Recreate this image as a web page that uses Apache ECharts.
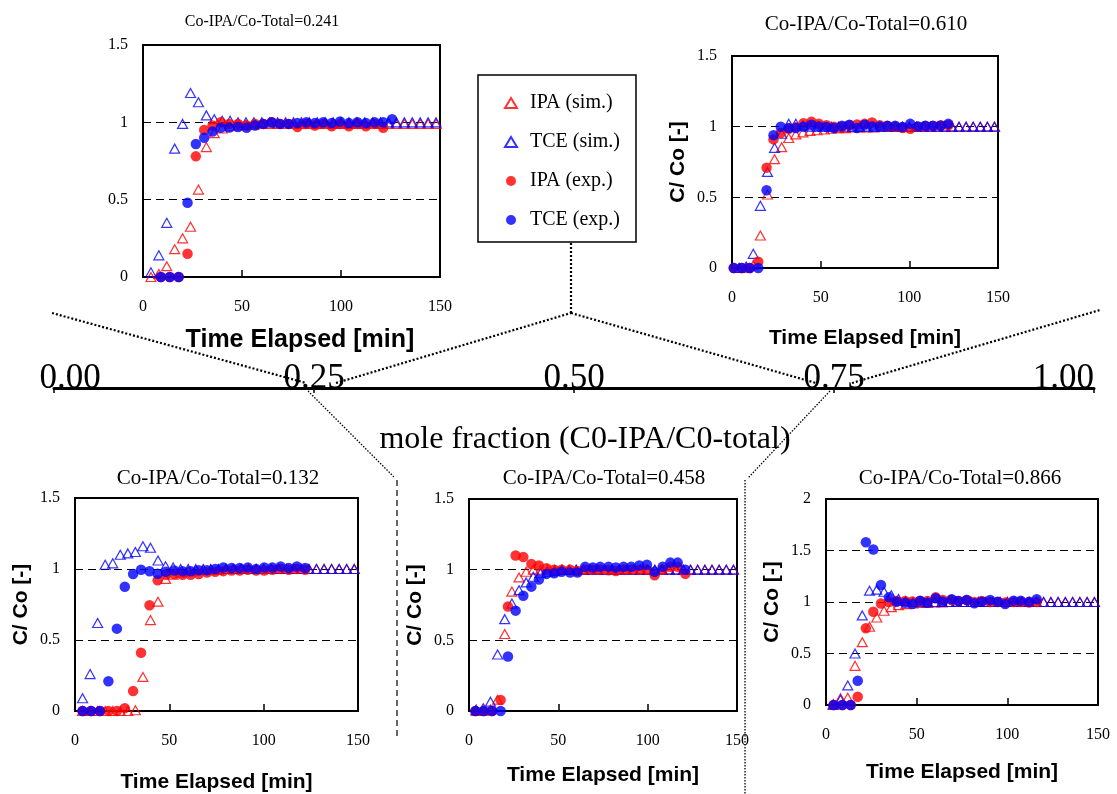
<!DOCTYPE html>
<html><head><meta charset="utf-8">
<script src="https://cdn.jsdelivr.net/npm/echarts@6/dist/echarts.min.js"></script>
<style>html,body{margin:0;padding:0;background:#fff}#c{width:1117px;height:794px}</style>
</head><body><div id="c"></div>
<script>
// ---------- DATA ----------
const simT = [4,8,12,16,20,24,28,32,36,40,44,48,52,56,60,64,68,72,76,80,84,88,92,96,100,104,108,112,116,120,124,128,132,136,140,144,148];

// Panel 0.241
const A_title = "Co-IPA/Co-Total=0.241";
const A_ipaSim = [0,0.02,0.07,0.18,0.25,0.325,0.565,0.84,0.93,0.96,0.975,0.98,0.985,0.985,0.99,0.99,0.99,0.99,0.99,0.99,0.99,0.99,0.99,0.99,0.99,0.99,0.99,0.99,0.99,0.99,0.99,0.99,0.99,0.99,0.99,0.99,0.99];
const A_tceSim = [0.03,0.14,0.35,0.83,0.99,1.19,1.13,1.045,1.02,1.01,1.01,1.0,1.0,1.0,1.0,1.0,1.0,1.0,1.0,1.0,1.0,1.0,1.0,1.0,1.0,1.0,1.0,1.0,1.0,1.0,1.0,1.0,1.0,1.0,1.0,1.0,1.0];
const A_expT = [9,13.5,18,22.5,26.7,30.9,35.1,39.3,43.6,48,52.3,56.6,60.8,65,69.2,73.6,78,82.5,86.8,91,95.3,99.5,104,108.3,112.6,117,121.3,125.8];
const A_ipaExp = [0,0,0,0.15,0.78,0.95,0.98,1.0,0.99,0.99,0.98,0.99,0.99,1.0,0.99,0.99,0.97,0.99,0.98,0.99,0.975,0.99,0.975,0.99,0.975,0.99,0.965];
const A_tceExp = [0,0,0,0.48,0.86,0.90,0.94,0.965,0.966,0.97,0.965,0.98,0.99,1.0,0.99,0.99,0.995,1.0,0.995,1.0,0.995,1.005,0.995,1.0,0.995,1.0,1.0,1.02];

// Panel 0.610
const B_title = "Co-IPA/Co-Total=0.610";
const B_ipaSim = [0,0,0.02,0.23,0.52,0.77,0.855,0.92,0.945,0.96,0.97,0.975,0.98,0.985,0.99,0.99,0.995,0.995,0.995,0.995,1.0,1.0,1.0,1.0,1.0,1.0,1.0,1.0,1.0,1.0,1.0,1.0,1.0,1.0,1.0,1.0,1.0];
const B_tceSim = [0,0.01,0.10,0.44,0.68,0.85,0.95,1.02,1.02,1.01,1.0,1.0,1.0,1.0,1.0,1.0,1.0,1.0,1.0,1.0,1.0,1.0,1.0,1.0,1.0,1.0,1.0,1.0,1.0,1.0,1.0,1.0,1.0,1.0,1.0,1.0,1.0];
const B_expT = [1,5.5,10,14.8,19.5,23.4,27.5,32,36,40.3,44.8,49,53.3,57.5,62,66.2,70.5,74.8,79,83.3,87.6,92,96.2,100.5,104.8,109,113.3,117.7,122];
const B_ipaExp = [0,0,0,0.045,0.71,0.91,0.955,0.985,0.995,1.025,1.035,1.02,1.01,1.0,1.0,1.01,1.015,1.02,1.03,1.01,1.005,1.0,0.99,0.985,1.0,1.005,1.005,1.01,1.01];
const B_tceExp = [0,0,0,0,0.55,0.94,1.0,0.99,0.99,1.0,1.014,1.002,0.998,0.99,1.007,1.014,0.99,1.014,1.002,1.002,1.007,1.007,0.998,1.02,1.002,1.007,1.007,1.007,1.02];

// Panel 0.132
const C_title = "Co-IPA/Co-Total=0.132";
const C_ipaSim = [0,0,0,0,0,0,0,0.005,0.24,0.64,0.77,0.93,0.96,0.975,0.985,0.99,0.995,0.995,0.995,1.0,1.0,1.0,1.0,1.0,1.0,1.0,1.0,1.0,1.0,1.0,1.0,1.0,1.0,1.0,1.0,1.0,1.0];
const C_tceSim = [0.09,0.26,0.62,1.03,1.04,1.10,1.11,1.12,1.16,1.15,1.06,1.02,1.01,1.0,1.0,1.0,1.0,1.0,1.0,1.0,1.0,1.0,1.0,1.0,1.0,1.0,1.0,1.0,1.0,1.0,1.0,1.0,1.0,1.0,1.0,1.0,1.0];
const C_expT = [4,8.5,13.2,17.7,22.2,26.4,30.8,35,39.5,43.8,48.2,52.6,57,61.3,65.6,70,74.3,78.6,83,87.3,91.6,96,100.3,104.6,109,113.3,117.6,122];
const C_ipaExp = [0,0,0,0,0,0.02,0.14,0.41,0.745,0.92,0.96,0.965,0.96,0.96,0.965,0.975,0.98,0.985,0.99,0.99,0.995,0.99,0.99,0.995,1.0,0.995,1.0,0.995];
const C_tceExp = [0,0,0,0.21,0.58,0.875,0.965,0.995,0.984,0.967,0.98,0.99,0.984,0.984,0.991,0.991,1.0,1.011,1.007,1.007,1.011,1.0,1.011,1.011,1.018,1.007,1.018,1.007];

// Panel 0.458
const D_title = "Co-IPA/Co-Total=0.458";
const D_ipaSim = [0,0,0.01,0.08,0.545,0.845,0.945,0.985,1.0,1.0,1.0,1.0,1.0,1.0,1.0,1.0,1.0,1.0,1.0,1.0,1.0,1.0,1.0,1.0,1.0,1.0,1.0,1.0,1.0,1.0,1.0,1.0,1.0,1.0,1.0,1.0,1.0];
const D_tceSim = [0.01,0.02,0.066,0.40,0.65,0.76,0.855,0.91,0.95,0.975,0.985,0.99,1.0,1.0,1.0,1.0,1.0,1.0,1.0,1.0,1.0,1.0,1.0,1.0,1.0,1.0,1.0,1.0,1.0,1.0,1.0,1.0,1.0,1.0,1.0,1.0,1.0];
const D_expT = [3.6,8.2,12.9,17.7,21.8,26.1,30.4,34.9,39.1,43.4,47.7,51.9,56.6,60.7,65,69.3,73.4,78.1,82.2,86.5,90.8,95.3,99.6,103.9,108.4,112.7,116.8,121.1];
const D_ipaExp = [0,0,0,0.078,0.74,1.10,1.09,1.04,1.03,1.01,1.0,1.0,1.0,0.99,1.0,1.0,1.0,0.995,0.99,1.0,1.0,1.0,1.0,0.96,1.0,1.02,1.02,0.97];
const D_tceExp = [0,0,0,0,0.385,0.71,0.815,0.88,0.93,0.97,0.975,0.985,0.98,0.98,1.02,1.015,1.02,1.02,1.015,1.02,1.02,1.03,1.035,0.985,1.02,1.05,1.05,1.0];

// Panel 0.866
const E_title = "Co-IPA/Co-Total=0.866";
const E_ipaSim = [0.01,0.065,0.07,0.38,0.61,0.76,0.85,0.915,0.95,0.97,0.98,0.985,0.99,0.99,0.995,0.995,1.0,1.0,1.0,1.0,1.0,1.0,1.0,1.0,1.0,1.0,1.0,1.0,1.0,1.0,1.0,1.0,1.0,1.0,1.0,1.0,1.0];
const E_tceSim = [0,0.05,0.19,0.50,0.87,1.11,1.12,1.10,1.065,1.03,1.01,1.0,1.0,1.0,1.0,1.0,1.0,1.0,1.0,1.0,1.0,1.0,1.0,1.0,1.0,1.0,1.0,1.0,1.0,1.0,1.0,1.0,1.0,1.0,1.0,1.0,1.0];
const E_expT = [4.2,9,13.6,17.5,22,26.1,30.3,34.7,39,43.6,47.6,51.9,55.9,60.5,64.4,69.3,73,77.6,81.8,85.9,90.5,94.7,98.8,103.4,107.4,112,116.2];
const E_ipaExp = [0,0,0,0.08,0.745,0.905,0.985,1.0,1.01,1.01,1.005,1.01,1.01,1.045,1.02,1.02,1.01,1.02,1.0,1.01,1.0,1.0,0.995,1.0,1.0,0.995,1.0];
const E_tceExp = [0,0,0,0.235,1.58,1.51,1.165,1.045,1.003,0.993,0.98,1.013,0.993,1.036,1.003,1.026,1.01,1.02,0.987,1.003,1.02,1.003,0.98,1.013,1.013,1.003,1.026];

const xTicks = [0,50,100,150];
const fracTicks = [0,0.25,0.5,0.75,1];
const seriesNames = ["IPA (sim.)","TCE (sim.)","IPA (exp.)","TCE (exp.)"];
const xName = "Time Elapsed [min]";
const yName = "C/ Co [-]";
const fracName = "mole fraction (C0-IPA/C0-total)";

// ---------- LAYOUT ----------
const panels = [
  {t:A_title, ipaS:A_ipaSim, tceS:A_tceSim, eT:A_expT, ipaE:A_ipaExp, tceE:A_tceExp, g:{left:143,top:45,width:297,height:232}, ymax:1.5, yname:false, nameGap:51, xnFs:25, xnPad:[0,0,0,17], title:[257,9], tFs:16},
  {t:B_title, ipaS:B_ipaSim, tceS:B_tceSim, eT:B_expT, ipaE:B_ipaExp, tceE:B_tceExp, g:{left:732,top:56,width:266,height:212}, ymax:1.5, yname:true, nameGap:60, xnFs:21, xnPad:0, title:[861,9], tFs:21},
  {t:C_title, ipaS:C_ipaSim, tceS:C_tceSim, eT:C_expT, ipaE:C_ipaExp, tceE:C_tceExp, g:{left:75,top:498,width:283,height:219}, ymax:1.5, yname:true, nameGap:61, xnFs:21, xnPad:0, title:[213,463], tFs:21},
  {t:D_title, ipaS:D_ipaSim, tceS:D_tceSim, eT:D_expT, ipaE:D_ipaExp, tceE:D_tceExp, g:{left:469,top:499,width:268,height:212}, ymax:1.5, yname:true, nameGap:54, xnFs:21, xnPad:0, title:[599,463], tFs:21},
  {t:E_title, ipaS:E_ipaSim, tceS:E_tceSim, eT:E_expT, ipaE:E_ipaExp, tceE:E_tceExp, g:{left:826,top:499,width:272,height:206}, ymax:2, yname:true, nameGap:57, xnFs:21, xnPad:0, title:[955,463], tFs:21}
];
const serif = "'Liberation Serif','Times New Roman',serif";
const sans = "'Liberation Sans',Arial,sans-serif";
const RED = '#ff0000', BLUE = '#0000ff';

const grids = [], xAxes = [], yAxes = [], series = [], titles = [];
panels.forEach((p, i) => {
  grids.push(Object.assign({show:true, borderColor:'#000', borderWidth:2, backgroundColor:'#fff'}, p.g));
  xAxes.push({gridIndex:i, type:'value', min:xTicks[0], max:xTicks[xTicks.length-1], interval:50,
    axisLine:{show:false}, axisTick:{show:true, inside:true, length:7, lineStyle:{color:'#000', width:1.5}},
    splitLine:{show:false},
    axisLabel:{color:'#000', fontFamily:serif, fontSize:16, margin:22},
    name:xName, nameLocation:'middle', nameGap:p.nameGap,
    nameTextStyle:{color:'#000', fontFamily:sans, fontWeight:'bold', fontSize:p.xnFs, padding:p.xnPad}});
  yAxes.push({gridIndex:i, type:'value', min:0, max:p.ymax, interval:0.5,
    axisLine:{show:false}, axisTick:{show:false},
    splitLine:{show:true, lineStyle:{color:'#000', type:[8,5], width:1}},
    axisLabel:{color:'#000', fontFamily:serif, fontSize:16, margin:15, formatter:v=>String(v)},
    name:p.yname?yName:'', nameLocation:'middle', nameGap:43, nameRotate:90,
    nameTextStyle:{color:'#000', fontFamily:sans, fontWeight:'bold', fontSize:21}});
  const pair = (xs, ys) => ys.map((v, k) => [xs[k], v]);
  series.push({name:seriesNames[0], type:'scatter', xAxisIndex:i, yAxisIndex:i, symbol:'triangle', symbolSize:[10,9],
    itemStyle:{color:'rgba(255,255,255,0)', borderColor:RED, borderWidth:1.2}, data:pair(simT, p.ipaS), z:2, silent:true});
  series.push({name:seriesNames[1], type:'scatter', xAxisIndex:i, yAxisIndex:i, symbol:'triangle', symbolSize:[10,9],
    itemStyle:{color:'rgba(255,255,255,0)', borderColor:BLUE, borderWidth:1.2}, data:pair(simT, p.tceS), z:3, silent:true});
  series.push({name:seriesNames[2], type:'scatter', xAxisIndex:i, yAxisIndex:i, symbol:'circle', symbolSize:10.5,
    itemStyle:{color:RED}, data:pair(p.eT, p.ipaE), z:4, silent:true});
  series.push({name:seriesNames[3], type:'scatter', xAxisIndex:i, yAxisIndex:i, symbol:'circle', symbolSize:10.5,
    itemStyle:{color:BLUE}, data:pair(p.eT, p.tceE), z:5, silent:true});
  titles.push({text:p.t, left:p.title[0], top:p.title[1], textAlign:'center',
    textStyle:{color:'#000', fontFamily:serif, fontWeight:'normal', fontSize:p.tFs}});
});

// central mole-fraction axis
const fracFs = 35;
grids.push({left:54, top:300, width:1040, height:88, show:false});
xAxes.push({gridIndex:5, type:'value', min:fracTicks[0], max:fracTicks[fracTicks.length-1], interval:0.25,
  axisLine:{show:true, lineStyle:{color:'#000', width:3}},
  axisTick:{show:true, length:5, lineStyle:{color:'#000', width:1.5}},
  splitLine:{show:false},
  axisLabel:{inside:true, margin:-8, color:'#000', fontFamily:serif, fontSize:fracFs,
    formatter:v=> v===fracTicks[0] ? '{m|'+v.toFixed(2)+'}' : v.toFixed(2),
    rich:{m:{fontFamily:serif, fontSize:fracFs, color:'#000', padding:[0,0,0,32]}},
    alignMinLabel:'center', alignMaxLabel:'right'},
  name:fracName, nameLocation:'middle', nameGap:36,
  nameTextStyle:{color:'#000', fontFamily:serif, fontSize:32, padding:[0,0,0,22]}});
yAxes.push({gridIndex:5, type:'value', min:0, max:1, show:false});

const chart = echarts.init(document.getElementById('c'), null, {renderer:'canvas'});
chart.setOption({
  animation:false,
  backgroundColor:'#fff',
  title:titles,
  grid:grids, xAxis:xAxes, yAxis:yAxes, series:series,
  legend:{data:seriesNames, orient:'vertical', left:478, top:75,
    padding:[18,16,12,26], itemGap:19, itemWidth:12, itemHeight:10,
    borderColor:'#000', borderWidth:1.5, backgroundColor:'#fff',
    selectedMode:false,
    textStyle:{color:'#000', fontFamily:serif, fontSize:20, padding:[0,0,0,8]}}
});

// decorative call-out lines anchored to the mole-fraction axis
const ax = v => chart.convertToPixel({xAxisIndex:5}, v);
const yAx = 388;
const p25 = ax(0.25), p50 = ax(0.5), p75 = ax(0.75);
const dot = {stroke:'#000', lineWidth:2.2, lineDash:[2,2]};
const fine = {stroke:'#000', lineWidth:1.3, lineDash:[1.5,1.5]};
const dash = {stroke:'#000', lineWidth:1.2, lineDash:[6,4]};
const L = (pts, st) => ({type:'polyline', silent:true, z:1, shape:{points:pts}, style:st});
chart.setOption({graphic:[
  L([[52,313],[p25-8,yAx-5]], dot),
  L([[p25+22,yAx-5],[p50-3,313]], dot),
  L([[p50-3,313],[p75-18,yAx-5]], dot),
  L([[p75+18,yAx-5],[1100,310]], dot),
  L([[p50-3,243],[p50-3,313]], dot),
  L([[p25-6,yAx+3],[395,478]], fine),
  L([[397,480],[397,738]], dash),
  L([[p75-4,yAx+3],[748,478]], fine),
  L([[745,480],[745,794]], fine)
]});
</script></body></html>
